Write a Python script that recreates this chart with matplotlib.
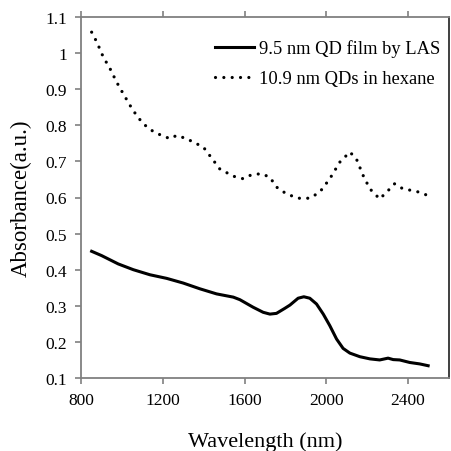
import matplotlib
matplotlib.use("Agg")
import matplotlib.pyplot as plt
import numpy as np

plt.rcParams['font.family'] = ['Liberation Serif', 'DejaVu Serif']

las_wl = [852, 901, 982, 1056, 1137, 1219, 1300, 1382, 1463, 1545, 1577, 1642, 1691,
          1724, 1756, 1797, 1822, 1862, 1890, 1919, 1952, 1985, 2017, 2050, 2082, 2115,
          2164, 2213, 2261, 2302, 2327, 2359, 2408, 2457, 2498]
las_abs = [0.451, 0.439, 0.416, 0.400, 0.386, 0.376, 0.363, 0.347, 0.333, 0.324, 0.317,
           0.296, 0.282, 0.277, 0.279, 0.293, 0.302, 0.321, 0.325, 0.321, 0.305, 0.277,
           0.245, 0.208, 0.182, 0.169, 0.159, 0.153, 0.150, 0.155, 0.151, 0.150, 0.143,
           0.139, 0.134]

hex_wl = [852, 877, 909, 942, 974, 1007, 1040, 1072, 1105, 1145, 1186, 1235, 1268, 1316,
          1365, 1398, 1430, 1479, 1545, 1593, 1634, 1683, 1724, 1756, 1805, 1862, 1919,
          1968, 2017, 2066, 2115, 2147, 2180, 2213, 2261, 2302, 2334, 2375, 2441, 2490]
hex_abs = [1.058, 1.031, 0.989, 0.957, 0.920, 0.887, 0.855, 0.827, 0.804, 0.786, 0.774,
           0.763, 0.772, 0.763, 0.749, 0.740, 0.716, 0.679, 0.659, 0.652, 0.663, 0.666,
           0.656, 0.629, 0.610, 0.598, 0.598, 0.615, 0.652, 0.698, 0.726, 0.707, 0.661,
           0.624, 0.596, 0.619, 0.638, 0.624, 0.617, 0.607]

labels = ["9.5 nm QD film by LAS", "10.9 nm QDs in hexane"]
xticks = [800, 1200, 1600, 2000, 2400]
yticks = [0.1, 0.2, 0.3, 0.4, 0.5, 0.6, 0.7, 0.8, 0.9, 1.0, 1.1]
yticklabels = ["0.1", "0.2", "0.3", "0.4", "0.5", "0.6", "0.7", "0.8", "0.9", "1", "1.1"]

fig = plt.figure(figsize=(4.51, 4.52), dpi=100)
ax = fig.add_axes([81/451, 1-379/452, (449-81)/451, (379-18)/452])

ax.plot(las_wl, las_abs, color='black', lw=2.2, label=labels[0])
ax.plot(hex_wl, hex_abs, color='black', lw=2.3, linestyle=(0, (0.01, 2.6)),
        dash_capstyle='round', label=labels[1])

ax.set_xlim(800, 2600)
ax.set_ylim(0.1, 1.1)
ax.set_xticks(xticks)
ax.set_yticks(yticks)
ax.set_yticklabels(yticklabels)

gray = '#808080'
for s in ['left', 'bottom', 'top']:
    ax.spines[s].set_color(gray)
    ax.spines[s].set_linewidth(1.3)
ax.spines['right'].set_color('#303030')
ax.spines['right'].set_linewidth(1.3)

ax.tick_params(axis='both', which='both', direction='out', length=4, width=1.2,
               color=gray, labelsize=12.5, pad=6)
ax.tick_params(axis='x', top=True)
ax.tick_params(axis='y', direction='out', length=4, left=True, right=False)

ax.set_xlabel("Wavelength (nm)", fontsize=16, labelpad=17)
ax.set_ylabel("Absorbance(a.u.)", fontsize=16.5)
ax.yaxis.set_label_coords(-49/368, 0.5)

ax.legend(loc='upper right', frameon=False, fontsize=13.3, handlelength=2.1,
          handletextpad=0.25, labelspacing=0.68, borderaxespad=0.0,
          bbox_to_anchor=(0.995, 0.958))

fig.savefig("out.png", dpi=100)
